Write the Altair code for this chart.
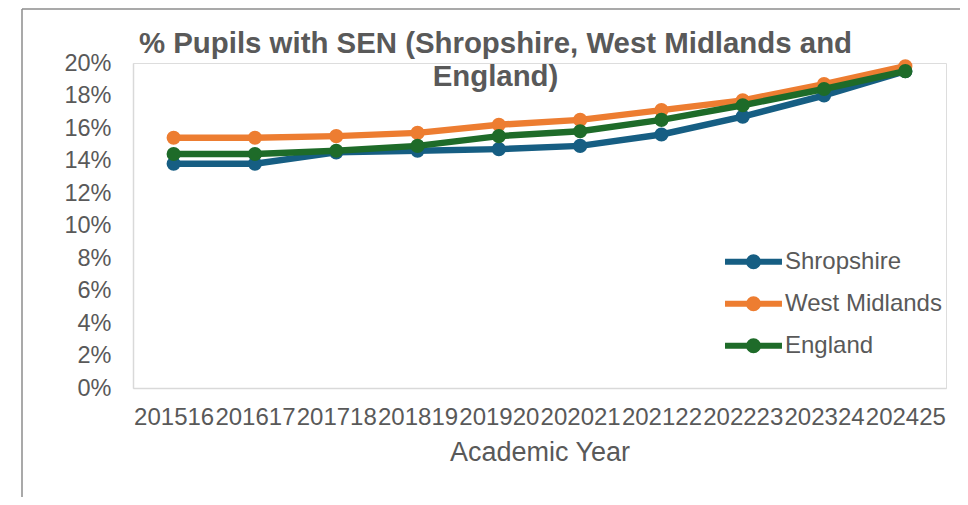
import altair as alt
import pandas as pd

# ---- data ----
years = ["201516", "201617", "201718", "201819", "201920",
         "202021", "202122", "202223", "202324", "202425"]
series_names = ["Shropshire", "West Midlands", "England"]
shropshire = [13.8, 13.8, 14.5, 14.6, 14.7, 14.9, 15.6, 16.7, 18.0, 19.5]
west_midlands = [15.4, 15.4, 15.5, 15.7, 16.2, 16.5, 17.1, 17.7, 18.7, 19.8]
england = [14.4, 14.4, 14.6, 14.9, 15.5, 15.8, 16.5, 17.4, 18.4, 19.5]
colors = ["#165E83", "#ED7D31", "#1E6B29"]
y_ticks = [0, 2, 4, 6, 8, 10, 12, 14, 16, 18, 20]
title_lines = ["% Pupils with SEN (Shropshire, West Midlands and", "England)"]
x_title = "Academic Year"

values_by_series = {"Shropshire": shropshire, "West Midlands": west_midlands, "England": england}
rows = []
for name in series_names:
    for yr, v in zip(years, values_by_series[name]):
        rows.append({"year": yr, "series": name, "value": v})
df = pd.DataFrame(rows)

TEXT = "#595959"
FONT = "Liberation Sans"

# legend symbol (stroked): a horizontal line plus two concentric rings forming a dot
legend_path = ("M-2.19,0L2.19,0"
               "M-0.346,0A0.346,0.346 0 1,0 0.346,0A0.346,0.346 0 1,0 -0.346,0"
               "M-0.115,0A0.115,0.115 0 1,0 0.115,0A0.115,0.115 0 1,0 -0.115,0")

x_enc = alt.X("year:N", sort=years,
              scale=alt.Scale(type="point", padding=0.5),
              axis=alt.Axis(title=x_title, labelAngle=0, labelOverlap=False,
                            ticks=False, grid=False, domainColor="#D9D9D9",
                            domainWidth=1.5, labelPadding=17, titlePadding=10,
                            labelFontSize=24, titleFontSize=27,
                            labelColor=TEXT, titleColor=TEXT,
                            labelFont=FONT, titleFont=FONT,
                            titleFontWeight="normal"))
y_enc = alt.Y("value:Q", scale=alt.Scale(domain=[0, 20], nice=False, zero=True),
              axis=alt.Axis(values=y_ticks, labelExpr="datum.value + '%'",
                            grid=False, ticks=False, title=None,
                            domainColor="#D9D9D9", domainWidth=1.5,
                            labelPadding=22, labelFontSize=23.5,
                            labelColor=TEXT, labelFont=FONT))
color_scale = alt.Scale(domain=series_names, range=colors)
color_legend = alt.Legend(title=None, orient="none",
                          legendX=604.5, legendY=182.7,
                          padding=0, symbolType=legend_path,
                          symbolSize=676, symbolStrokeWidth=6,
                          symbolOpacity=1,
                          labelOffset=15.5, rowPadding=8,
                          labelFontSize=24, labelColor=TEXT,
                          labelFont=FONT, labelLimit=400)
color_enc = alt.Color("series:N", sort=series_names, scale=color_scale, legend=color_legend)

layers = []
for name in series_names:
    base = alt.Chart(df).transform_filter(alt.datum.series == name)
    layers.append(base.mark_line(strokeWidth=6.5, strokeJoin="round", strokeCap="round")
                  .encode(x=x_enc, y=y_enc, color=color_enc))
    layers.append(base.mark_circle(size=200, opacity=1)
                  .encode(x=x_enc, y=y_enc, color=color_enc))

frame_df = pd.DataFrame({"k": [0]})
left_border = alt.Chart(frame_df).mark_rule(color="#8C8C8C", strokeWidth=1.5).encode(
    x=alt.value(-111), y=alt.value(-54), y2=alt.value(434))
top_border = alt.Chart(frame_df).mark_rule(color="#8C8C8C", strokeWidth=1.5).encode(
    x=alt.value(-111), x2=alt.value(830), y=alt.value(-54))

chart = alt.layer(left_border, top_border, *layers).properties(
    width=813, height=325,
    title=alt.TitleParams(text=title_lines, fontSize=29.4, font=FONT,
                          fontWeight="bold", color=TEXT, anchor="middle",
                          dx=-44, dy=84, offset=0, lineHeight=33),
    autosize=alt.AutoSizeParams(type="none"),
    padding={"left": 125, "top": 55, "right": 14, "bottom": 109},
).configure_view(stroke=None).configure(background="white")

chart.save("out.html", embed_options={"renderer": "svg", "actions": False})
